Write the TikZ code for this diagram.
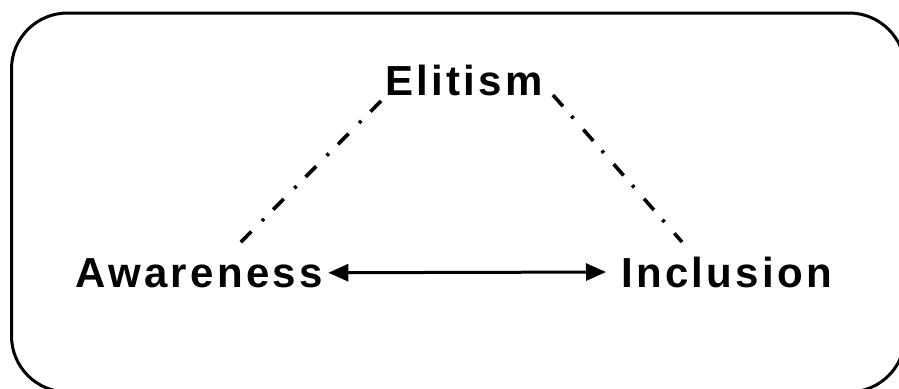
\documentclass[tikz,border=0pt]{standalone}
\usepackage{fontspec}
\setmainfont{Liberation Sans}[LetterSpace=8]
\usetikzlibrary{arrows.meta}
\begin{document}
\begin{tikzpicture}[x=1pt,y=1pt,
  lbl/.style={font=\fontsize{42}{46}\selectfont\bfseries, inner sep=0pt, anchor=base west},
  dashdot/.style={line width=3.6pt, dash pattern=on 15pt off 13pt on 3pt off 15pt},
  link/.style={line width=3pt, {Triangle[length=20pt,width=17pt]}-{Triangle[length=20pt,width=17pt]}}]
\useasboundingbox (0,0) rectangle (899,-388);
\clip (0,0) rectangle (899,-388);
\fill[white] (0,0) rectangle (899,-388);
\draw[line width=3pt, rounded corners=56pt] (11.5,-13) rectangle (905,-392);
\node[lbl] (el) at (385,-95) {Elitism};
\node[lbl] (aw) at (75,-287) {Awareness};
\node[lbl] (inc) at (621,-287) {Inclusion};
\coordinate (elL) at (381,-101);
\coordinate (awT) at (239,-244);
\coordinate (elR) at (553,-95);
\coordinate (incT) at (682,-242);
\draw[dashdot] (elL) -- (awT);
\draw[dashdot] (elR) -- (incT);
\draw[link, shorten <=5pt, shorten >=15pt] (aw.east) -- (inc.west);
\end{tikzpicture}
\end{document}
